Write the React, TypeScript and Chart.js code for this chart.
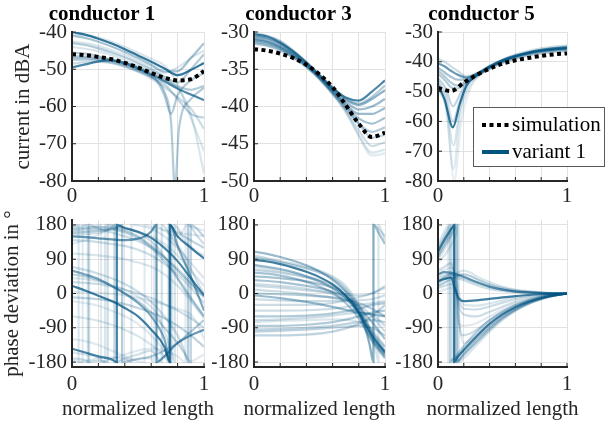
import React, { useEffect, useRef } from 'react';
import { Chart, registerables } from 'chart.js';
Chart.register(...registerables);

const BLUE = '0,84,130';
const FONT = "'Liberation Serif', 'Times New Roman', serif";
const AX = '#262626';
const GRID = '#e2e2e2';

const X_GRID = [0, 0.1, 0.2, 0.3, 0.4, 0.5, 0.6, 0.7, 0.8, 0.9, 1];
const X_TICKS = [0, 0.2, 0.4, 0.6, 0.8, 1];
const TITLES = ['conductor 1', 'conductor 3', 'conductor 5'];
const Y_TICKS_C1 = [-80, -70, -60, -50, -40];
const Y_TICKS_C3 = [-50, -45, -40, -35, -30];
const Y_TICKS_C5 = [-80, -70, -60, -50, -40, -30];
const Y_TICKS_PHASE = [-180, -90, 0, 90, 180];

// simulation (dB) on X_GRID
const SIM_C1 = [-46, -46.2, -46.7, -47.3, -48.3, -49.5, -51, -52.3, -53, -52.7, -50.5];
const SIM_C3 = [-32.3, -32.5, -32.9, -33.5, -34.4, -35.7, -37.4, -39.8, -42.3, -44.1, -43.5];
const SIM_C5 = [-48.8, -49.8, -47, -44.4, -42.3, -40.6, -39.5, -38.7, -38, -37.5, -37.2];

// variant curves: [x, value] pairs, with per-curve opacity
const AMP_C1 = [
  [[0,-40],[0.1,-40.7],[0.2,-41.8],[0.3,-43.1],[0.4,-44.6],[0.5,-46.3],[0.6,-48],[0.7,-49.8],[0.8,-51.6],[0.9,-50.2],[1,-48.3]],
  [[0,-49.5],[0.1,-48.7],[0.2,-47.9],[0.3,-47.6],[0.4,-48.3],[0.5,-49.7],[0.6,-51.4],[0.7,-53.2],[0.8,-55.2],[0.9,-56.8],[1,-58.3]],
  [[0,-41],[0.1,-41.6],[0.2,-42.6],[0.3,-43.9],[0.4,-45.4],[0.5,-47],[0.6,-48.8],[0.7,-50.6],[0.8,-50.5],[0.9,-47],[1,-43]],
  [[0,-43],[0.1,-43.5],[0.2,-44.4],[0.3,-45.5],[0.4,-46.8],[0.5,-48.3],[0.6,-50],[0.7,-52],[0.8,-53.5],[0.9,-50],[1,-46]],
  [[0,-46.5],[0.1,-46.6],[0.2,-46.9],[0.3,-47.4],[0.4,-48.3],[0.5,-49.5],[0.6,-51],[0.7,-52.7],[0.8,-54.6],[0.9,-55.5],[1,-54.5]],
  [[0,-47.5],[0.1,-47.4],[0.2,-47.6],[0.3,-48.2],[0.4,-49.2],[0.5,-50.5],[0.6,-52],[0.7,-54],[0.8,-58],[0.9,-62],[1,-63]],
  [[0,-48.5],[0.1,-48.1],[0.2,-48],[0.3,-48.4],[0.4,-49.3],[0.5,-50.7],[0.6,-52.5],[0.7,-54.8],[0.8,-57.5],[0.9,-60.5],[1,-66]],
  [[0,-44],[0.1,-44.5],[0.2,-45.2],[0.3,-46.2],[0.4,-47.5],[0.5,-49],[0.6,-50.6],[0.7,-52.4],[0.8,-55],[0.9,-62],[1,-78]],
  [[0,-42.5],[0.1,-43],[0.2,-43.8],[0.3,-44.9],[0.4,-46.1],[0.5,-47.6],[0.6,-49.3],[0.7,-51],[0.8,-49.5],[0.9,-47],[1,-45]],
  [[0,-45.5],[0.1,-45.8],[0.2,-46.5],[0.3,-47.5],[0.4,-48.6],[0.5,-50],[0.6,-51.8],[0.65,-53.5],[0.7,-57],[0.75,-62],[0.8,-57],[0.9,-53],[1,-51]],
  [[0,-47],[0.1,-47],[0.2,-47.3],[0.3,-47.8],[0.4,-48.8],[0.5,-50.2],[0.6,-52],[0.7,-56],[0.75,-64],[0.78,-82],[0.81,-66],[0.9,-58],[1,-55]],
  [[0,-40.5],[0.2,-41.5],[0.4,-44],[0.6,-47.2],[0.7,-49],[0.8,-54],[0.9,-63],[1,-72]],
];
const ALPHA_AMP_C1 = [0.8, 0.7, 0.35, 0.3, 0.3, 0.25, 0.2, 0.15, 0.15, 0.3, 0.3, 0.15];

const AMP_C3 = [
  [[0,-30.3],[0.1,-30.6],[0.2,-31.4],[0.3,-32.6],[0.4,-34.1],[0.5,-35.8],[0.6,-37.5],[0.7,-38.8],[0.8,-39.2],[0.9,-38],[1,-36.5]],
  [[0,-30.6],[0.1,-30.9],[0.2,-31.6],[0.3,-32.8],[0.4,-34.2],[0.5,-35.9],[0.6,-37.6],[0.7,-39.1],[0.8,-39.8],[0.9,-39],[1,-37.8]],
  [[0,-30.9],[0.1,-31.2],[0.2,-31.9],[0.3,-33],[0.4,-34.4],[0.5,-36],[0.6,-37.8],[0.7,-39.4],[0.8,-40.4],[0.9,-40],[1,-39]],
  [[0,-31.1],[0.1,-31.4],[0.2,-32.1],[0.3,-33.1],[0.4,-34.5],[0.5,-36.1],[0.6,-38],[0.7,-39.7],[0.8,-41],[0.9,-41],[1,-40.2]],
  [[0,-31.3],[0.1,-31.6],[0.2,-32.2],[0.3,-33.3],[0.4,-34.6],[0.5,-36.2],[0.6,-38.1],[0.7,-40],[0.8,-41.6],[0.9,-42.3],[1,-41.5]],
  [[0,-31.5],[0.1,-31.8],[0.2,-32.4],[0.3,-33.4],[0.4,-34.7],[0.5,-36.3],[0.6,-38.3],[0.7,-40.3],[0.8,-42.3],[0.9,-43.4],[1,-42.8]],
  [[0,-30.5],[0.1,-30.8],[0.2,-31.5],[0.3,-32.7],[0.4,-34.2],[0.5,-35.9],[0.6,-37.8],[0.7,-39.9],[0.8,-42.3],[0.9,-44.2],[1,-43.8]],
  [[0,-31],[0.1,-31.3],[0.2,-32],[0.3,-33.1],[0.4,-34.5],[0.5,-36.2],[0.6,-38.2],[0.7,-40.5],[0.8,-43.2],[0.9,-45.3],[1,-44.8]],
  [[0,-31.6],[0.1,-31.9],[0.2,-32.5],[0.3,-33.5],[0.4,-34.8],[0.5,-36.4],[0.6,-38.4],[0.7,-40.8],[0.8,-43.8],[0.9,-46.2],[1,-45.8]],
  [[0,-30.8],[0.1,-31.1],[0.2,-31.8],[0.3,-32.9],[0.4,-34.3],[0.5,-36],[0.6,-38],[0.7,-40.6],[0.8,-44],[0.9,-46.6],[1,-46.3]],
  [[0,-30.2],[0.1,-30.5],[0.2,-31.2],[0.3,-32.5],[0.4,-34],[0.5,-35.7],[0.6,-37.4],[0.7,-38.9],[0.8,-39.6],[0.9,-38.7],[1,-37.2]],
];
const ALPHA_AMP_C3 = [0.7, 0.45, 0.4, 0.4, 0.35, 0.3, 0.25, 0.2, 0.15, 0.12, 0.3];

const AMP_C5 = [
  [[0,-48],[0.05,-52.5],[0.115,-62],[0.17,-54],[0.22,-48],[0.3,-44.5],[0.4,-41.8],[0.5,-39.7],[0.6,-38.2],[0.7,-37.1],[0.8,-36.3],[0.9,-35.8],[1,-35.5]],
  [[0,-40.5],[0.05,-41.5],[0.1,-43],[0.15,-44.3],[0.22,-45.3],[0.3,-44],[0.4,-41.5],[0.5,-39.4],[0.6,-37.9],[0.7,-36.8],[0.8,-36],[0.9,-35.4],[1,-35]],
  [[0,-42],[0.05,-43.5],[0.1,-45],[0.15,-46],[0.22,-45.8],[0.3,-44.2],[0.4,-41.6],[0.5,-39.5],[0.6,-38],[0.7,-36.9],[0.8,-36.1],[0.9,-35.6],[1,-35.2]],
  [[0,-44],[0.05,-46],[0.1,-48.5],[0.15,-49],[0.22,-47],[0.3,-44.6],[0.4,-41.9],[0.5,-39.8],[0.6,-38.3],[0.7,-37.2],[0.8,-36.4],[0.9,-35.9],[1,-35.6]],
  [[0,-45.5],[0.06,-49],[0.115,-55],[0.17,-51],[0.23,-46.5],[0.3,-44.7],[0.4,-42],[0.5,-40],[0.6,-38.5],[0.7,-37.4],[0.8,-36.6],[0.9,-36.1],[1,-35.8]],
  [[0,-46.5],[0.06,-51],[0.115,-60],[0.17,-53],[0.24,-47],[0.3,-44.8],[0.4,-42.1],[0.5,-40.1],[0.6,-38.6],[0.7,-37.5],[0.8,-36.8],[0.9,-36.3],[1,-36]],
  [[0,-47],[0.06,-53],[0.12,-68],[0.17,-56],[0.24,-47.5],[0.3,-45],[0.4,-42.3],[0.5,-40.3],[0.6,-38.8],[0.7,-37.7],[0.8,-37],[0.9,-36.5],[1,-36.2]],
  [[0,-48.5],[0.06,-55],[0.12,-76],[0.17,-58],[0.25,-48],[0.3,-45.2],[0.4,-42.4],[0.5,-40.4],[0.6,-39],[0.7,-37.9],[0.8,-37.2],[0.9,-36.7],[1,-36.4]],
  [[0,-49.5],[0.07,-57],[0.125,-80],[0.18,-60],[0.26,-48],[0.3,-45.4],[0.4,-42.5],[0.5,-40.5],[0.6,-39.1],[0.7,-38],[0.8,-37.3],[0.9,-36.8],[1,-36.5]],
  [[0,-39],[0.05,-40],[0.1,-41.5],[0.15,-43],[0.22,-44.8],[0.3,-43.8],[0.4,-41.3],[0.5,-39.2],[0.6,-37.6],[0.7,-36.4],[0.8,-35.5],[0.9,-34.9],[1,-34.5]],
  [[0,-43],[0.05,-44.8],[0.1,-47],[0.15,-48],[0.22,-46.5],[0.3,-44.3],[0.4,-41.7],[0.5,-39.6],[0.6,-38.1],[0.7,-37],[0.8,-36.2],[0.9,-35.7],[1,-35.3]],
];
const ALPHA_AMP_C5 = [0.8, 0.6, 0.35, 0.3, 0.25, 0.2, 0.15, 0.12, 0.1, 0.2, 0.3];

// phase deviation (degrees); vertical steps are the ±180° wraps
const PH_C1 = [
  [[0,20],[0.1,8],[0.2,-6],[0.3,-20],[0.4,-38],[0.5,-60],[0.6,-95],[0.7,-140],[0.74,-180],[0.7401,180],[0.8,150],[0.9,120],[1,92]],
  [[0,-145],[0.1,-155],[0.2,-165],[0.3,-173],[0.34,-180],[0.3401,180],[0.4,172],[0.5,162],[0.6,146],[0.7,120],[0.8,85],[0.9,40],[1,-5]],
  [[0,150],[0.1,148],[0.2,145],[0.3,142],[0.4,140],[0.5,144],[0.55,150],[0.6,163],[0.64,180],[0.6401,-180],[0.7,-165],[0.8,-130],[0.9,-110],[1,-95]],
  [[0,60],[0.1,50],[0.2,38],[0.3,20],[0.4,0],[0.5,-25],[0.6,-60],[0.7,-120],[0.745,-180],[0.7451,180],[0.8,125],[0.9,45],[1,-45]],
  [[0,170],[0.1,172],[0.2,175],[0.3,172],[0.4,165],[0.5,150],[0.6,125],[0.7,95],[0.8,60],[0.9,25],[1,-10]],
  [[0,160],[0.1,162],[0.2,165],[0.3,168],[0.35,175],[0.38,180],[0.3801,-180],[0.5,-172],[0.6,-165],[0.7,-150],[0.8,-130],[0.9,-100],[1,-70]],
  [[0,50],[0.1,45],[0.2,35],[0.3,20],[0.4,0],[0.5,-20],[0.6,-50],[0.7,-90],[0.8,-130],[0.85,-155],[0.9,-180],[0.9001,180],[1,150]],
  [[0,-10],[0.1,-12],[0.2,-15],[0.3,-20],[0.4,-28],[0.5,-38],[0.6,-50],[0.7,-65],[0.8,-85],[0.9,-110],[1,-140]],
  [[0,30],[0.1,28],[0.2,25],[0.3,18],[0.4,10],[0.5,0],[0.6,-12],[0.7,-28],[0.8,-45],[0.9,-65],[1,-90]],
  [[0,-170],[0.1,-175],[0.13,-180],[0.1301,180],[0.2,170],[0.3,160],[0.4,150],[0.5,138],[0.6,120],[0.7,95],[0.8,65],[0.9,30],[1,-5]],
  [[0,175],[0.1,178],[0.12,180],[0.1201,-180],[0.2,-176],[0.27,-180],[0.2701,180],[0.35,176],[0.45,168],[0.55,150],[0.65,120],[0.75,70],[0.85,10],[1,-60]],
  [[0,155],[0.1,156],[0.2,160],[0.28,168],[0.32,180],[0.3201,-180],[0.4,-170],[0.5,-160],[0.6,-150],[0.68,-180],[0.6801,180],[0.75,150],[0.85,100],[0.95,30],[1,0]],
  [[0,-155],[0.1,-160],[0.2,-168],[0.25,-180],[0.2501,180],[0.3,175],[0.4,170],[0.5,162],[0.6,150],[0.7,130],[0.8,100],[0.9,60],[1,20]],
  [[0,40],[0.1,38],[0.2,32],[0.3,22],[0.4,10],[0.5,-8],[0.6,-35],[0.65,-55],[0.7,-100],[0.75,-150],[0.78,-180],[0.7801,180],[0.85,140],[0.95,110],[1,100]],
  [[0,-20],[0.1,-25],[0.2,-32],[0.3,-45],[0.4,-60],[0.5,-80],[0.6,-110],[0.7,-150],[0.76,-180],[0.7601,180],[0.85,150],[1,120]],
  [[0,5],[0.2,2],[0.4,-5],[0.6,-20],[0.8,-40],[0.9,-55],[0.95,-80],[1,-120]],
  [[0,130],[0.1,140],[0.2,155],[0.3,172],[0.33,180],[0.3301,-180],[0.4,-175],[0.6,-170],[0.62,-180],[0.6201,180],[0.7,165],[0.8,150],[0.88,180],[0.8801,-180],[1,-160]],
  [[0,-120],[0.1,-125],[0.2,-135],[0.3,-150],[0.4,-165],[0.5,-178],[0.55,-180],[0.5501,180],[0.65,170],[0.8,160],[1,150]],
  [[0,165],[0.1,168],[0.2,170],[0.3,168],[0.4,160],[0.5,145],[0.6,120],[0.7,85],[0.8,40],[0.9,-10],[1,-60]],
  [[0,140],[0.1,138],[0.2,135],[0.3,130],[0.4,125],[0.5,115],[0.6,100],[0.7,78],[0.8,50],[0.9,15],[1,-25]],
  [[0,70],[0.1,62],[0.2,52],[0.3,40],[0.4,25],[0.5,5],[0.6,-22],[0.7,-60],[0.8,-110],[0.85,-150],[0.88,-180],[0.8801,180],[0.95,150],[1,130]],
  [[0,-60],[0.1,-65],[0.2,-72],[0.3,-82],[0.4,-95],[0.5,-112],[0.6,-135],[0.7,-165],[0.73,-180],[0.7301,180],[0.8,160],[0.9,140],[1,120]],
  [[0,178],[0.05,180],[0.0501,-180],[0.1,-178],[0.2,-170],[0.3,-168],[0.4,-170],[0.45,-180],[0.4501,180],[0.6,170],[0.7,150],[0.8,120],[0.9,80],[1,40]],
  [[0,-175],[0.08,-180],[0.0801,180],[0.15,176],[0.22,180],[0.2201,-180],[0.3,-172],[0.4,-160],[0.5,-150],[0.6,-145],[0.7,-150],[0.8,-165],[0.86,-180],[0.8601,180],[0.95,170],[1,165]],
  [[0,105],[0.2,100],[0.4,90],[0.6,70],[0.7,50],[0.8,20],[0.9,-20],[1,-65]],
];
const ALPHA_PH_C1 = [0.75, 0.7, 0.6, 0.5, 0.3, 0.3, 0.25, 0.25, 0.2, 0.2, 0.2, 0.18, 0.15, 0.15, 0.12, 0.12, 0.12, 0.12, 0.25, 0.2, 0.2, 0.15, 0.15, 0.12, 0.15];

const PH_C3 = [
  [[0,88],[0.1,84],[0.2,77],[0.3,68],[0.4,57],[0.5,43],[0.6,24],[0.7,-5],[0.8,-50],[0.9,-110],[1,-155]],
  [[0,110],[0.1,104],[0.2,96],[0.3,86],[0.4,74],[0.5,58],[0.6,36],[0.7,5],[0.8,-45],[0.9,-115],[1,-160]],
  [[0,75],[0.1,70],[0.2,64],[0.3,56],[0.4,45],[0.5,32],[0.6,14],[0.7,-12],[0.8,-55],[0.9,-120],[1,-165]],
  [[0,55],[0.1,52],[0.2,47],[0.3,40],[0.4,30],[0.5,18],[0.6,2],[0.7,-25],[0.8,-65],[0.9,-125],[1,-170]],
  [[0,35],[0.2,30],[0.4,20],[0.6,5],[0.7,-10],[0.8,-35],[0.9,-75],[1,-120]],
  [[0,0],[0.2,-2],[0.4,-5],[0.6,-10],[0.7,-15],[0.8,-25],[0.9,-40],[1,-60]],
  [[0,-5],[0.2,-12],[0.4,-22],[0.6,-35],[0.8,-50],[0.9,-55],[1,-60]],
  [[0,-60],[0.2,-60],[0.4,-58],[0.6,-52],[0.8,-40],[0.9,-30],[1,-25]],
  [[0,-85],[0.2,-85],[0.4,-82],[0.6,-75],[0.8,-60],[0.9,-50],[1,-45]],
  [[0,-100],[0.2,-98],[0.4,-95],[0.6,-90],[0.8,-85],[0.9,-90],[1,-110]],
  [[0,-110],[0.2,-110],[0.4,-108],[0.6,-100],[0.8,-80],[0.9,-60],[1,-30]],
  [[0,-30],[0.2,-30],[0.4,-30],[0.6,-25],[0.8,-10],[0.9,0],[1,15]],
  [[0,20],[0.2,15],[0.4,8],[0.6,2],[0.8,-5],[0.9,0],[1,20]],
  [[0,45],[0.2,40],[0.4,32],[0.6,15],[0.7,-5],[0.8,-50],[0.88,-130],[0.91,-180],[0.9101,180],[0.95,160],[1,130]],
  [[0,-45],[0.2,-45],[0.4,-44],[0.6,-40],[0.8,-30],[1,-20]],
  [[0,70],[0.2,60],[0.4,45],[0.6,25],[0.75,-10],[0.85,-60],[0.93,-150],[0.95,-180],[0.9501,180],[1,140]],
  [[0,-75],[0.2,-72],[0.4,-70],[0.6,-68],[0.8,-75],[0.9,-95],[1,-140]],
  [[0,100],[0.2,85],[0.4,70],[0.6,45],[0.7,20],[0.8,-30],[0.9,-100],[1,-150]],
  [[0,95],[0.2,82],[0.4,66],[0.6,40],[0.7,12],[0.8,-38],[0.9,-105],[1,-152]],
  [[0,62],[0.2,55],[0.4,42],[0.6,20],[0.7,-5],[0.8,-45],[0.9,-100],[1,-140]],
  [[0,-15],[0.2,-18],[0.4,-20],[0.6,-20],[0.8,-18],[0.9,-15],[1,-5]],
  [[0,-95],[0.2,-93],[0.4,-90],[0.6,-85],[0.8,-75],[0.9,-70],[1,-75]],
  [[0,-70],[0.2,-68],[0.4,-64],[0.6,-58],[0.8,-50],[0.9,-55],[1,-85]],
  [[0,10],[0.2,5],[0.4,-2],[0.6,-12],[0.8,-30],[0.9,-60],[1,-100]],
  [[0,25],[0.2,20],[0.4,12],[0.6,-2],[0.75,-30],[0.85,-90],[0.9,-160],[0.915,-180],[0.9151,180],[0.95,170],[1,150]],
];
const ALPHA_PH_C3 = [0.75, 0.4, 0.4, 0.35, 0.35, 0.3, 0.4, 0.3, 0.3, 0.25, 0.25, 0.2, 0.2, 0.35, 0.2, 0.15, 0.15, 0.2, 0.3, 0.25, 0.2, 0.25, 0.2, 0.2, 0.2];

const PH_C5 = [
  [[0,110],[0.04,135],[0.08,158],[0.12,178],[0.125,180],[0.1251,-180],[0.15,-168],[0.2,-148],[0.3,-112],[0.4,-80],[0.5,-55],[0.6,-36],[0.7,-22],[0.8,-12],[0.9,-5],[1,0]],
  [[0,32],[0.05,38],[0.1,42],[0.13,15],[0.16,-12],[0.2,-20],[0.3,-18],[0.4,-14],[0.5,-10],[0.6,-7],[0.7,-4],[0.8,-2],[0.9,-1],[1,0]],
  [[0,50],[0.05,56],[0.1,55],[0.15,50],[0.2,44],[0.3,30],[0.4,18],[0.5,10],[0.6,5],[0.7,3],[0.8,1.5],[0.9,0.5],[1,0]],
  [[0,20],[0.05,28],[0.1,38],[0.15,47],[0.2,50],[0.25,46],[0.3,38],[0.4,24],[0.5,14],[0.6,8],[0.8,2],[1,0]],
  [[0,100],[0.04,125],[0.08,150],[0.11,170],[0.13,180],[0.1301,-180],[0.16,-175],[0.2,-160],[0.3,-128],[0.4,-95],[0.5,-66],[0.6,-44],[0.7,-27],[0.8,-15],[0.9,-6],[1,0]],
  [[0,95],[0.04,118],[0.08,142],[0.12,165],[0.145,180],[0.1451,-180],[0.2,-155],[0.3,-120],[0.4,-88],[0.5,-60],[0.6,-40],[0.7,-24],[0.8,-13],[0.9,-5],[1,0]],
  [[0,120],[0.04,145],[0.07,165],[0.095,180],[0.0951,-180],[0.12,-172],[0.15,-160],[0.2,-138],[0.3,-100],[0.4,-70],[0.5,-48],[0.6,-31],[0.7,-18],[0.8,-9],[0.9,-3],[1,0]],
  [[0,60],[0.05,70],[0.1,80],[0.12,60],[0.14,20],[0.16,-60],[0.18,-110],[0.25,-105],[0.3,-95],[0.4,-70],[0.5,-48],[0.6,-30],[0.8,-10],[1,0]],
  [[0,40],[0.05,45],[0.1,50],[0.13,30],[0.16,-30],[0.2,-55],[0.3,-60],[0.4,-48],[0.5,-35],[0.6,-22],[0.8,-8],[1,0]],
  [[0,15],[0.05,20],[0.1,25],[0.13,10],[0.16,-20],[0.2,-40],[0.3,-42],[0.4,-34],[0.5,-24],[0.6,-15],[0.8,-5],[1,0]],
  [[0,130],[0.03,150],[0.06,170],[0.08,180],[0.0801,-180],[0.1,-175],[0.15,-165],[0.2,-150],[0.3,-118],[0.4,-88],[0.5,-62],[0.6,-42],[0.7,-26],[0.8,-14],[0.9,-6],[1,0]],
  [[0,25],[0.05,35],[0.1,45],[0.15,55],[0.2,60],[0.25,55],[0.3,45],[0.4,30],[0.5,18],[0.6,10],[0.8,3],[1,0]],
  [[0,80],[0.05,100],[0.1,125],[0.14,155],[0.16,180],[0.1601,-180],[0.2,-170],[0.3,-135],[0.4,-100],[0.5,-70],[0.6,-46],[0.7,-28],[0.8,-15],[0.9,-6],[1,0]],
  [[0,5],[0.05,10],[0.1,15],[0.13,0],[0.16,-80],[0.2,-85],[0.3,-78],[0.4,-60],[0.5,-42],[0.6,-28],[0.8,-9],[1,0]],
  [[0,30],[0.05,42],[0.1,50],[0.13,48],[0.2,40],[0.3,28],[0.4,17],[0.5,10],[0.6,5],[0.8,1],[1,0]],
  [[0,90],[0.04,110],[0.08,135],[0.12,160],[0.15,180],[0.1501,-180],[0.2,-162],[0.3,-125],[0.4,-92],[0.5,-64],[0.6,-42],[0.7,-25],[0.8,-13],[0.9,-5],[1,0]],
  [[0,115],[0.04,140],[0.08,162],[0.11,180],[0.1101,-180],[0.13,-175],[0.2,-142],[0.3,-105],[0.4,-75],[0.5,-52],[0.6,-34],[0.7,-20],[0.8,-10],[0.9,-4],[1,0]],
  [[0,45],[0.05,50],[0.1,52],[0.14,40],[0.17,-10],[0.2,-30],[0.3,-32],[0.4,-26],[0.5,-18],[0.6,-11],[0.8,-4],[1,0]],
  [[0,55],[0.05,62],[0.1,68],[0.13,55],[0.15,0],[0.17,-90],[0.2,-130],[0.3,-110],[0.4,-82],[0.5,-57],[0.6,-37],[0.8,-12],[1,0]],
  [[0,35],[0.05,40],[0.1,42],[0.15,40],[0.2,35],[0.3,22],[0.4,12],[0.5,6],[0.7,2],[1,0]],
];
const ALPHA_PH_C5 = [0.75, 0.75, 0.6, 0.3, 0.3, 0.25, 0.25, 0.2, 0.2, 0.2, 0.15, 0.15, 0.15, 0.12, 0.25, 0.15, 0.15, 0.15, 0.12, 0.2];

type PanelCfg = {
  left: number; top: number; width: number; height: number;
  yW: number; xH: number; padRight: number; padTop: number;
  ymin: number; ymax: number; yticks: number[];
  curves: number[][][]; alphas: number[]; sim?: number[];
  title?: string; yTitle?: string; yTitlePad?: number; xTitle?: string;
  xLabelPad: number; legend?: boolean;
};

const axisOverlay = {
  id: 'axisOverlay',
  afterDatasetsDraw(chart: any) {
    const { ctx, chartArea, scales } = chart;
    const { left, right, top, bottom } = chartArea;
    ctx.save();
    ctx.strokeStyle = AX;
    ctx.lineWidth = 1;
    scales.x.ticks.forEach((t: any) => {
      const px = scales.x.getPixelForValue(t.value);
      ctx.beginPath(); ctx.moveTo(px, bottom); ctx.lineTo(px, bottom - 4); ctx.stroke();
    });
    scales.y.ticks.forEach((t: any) => {
      const py = scales.y.getPixelForValue(t.value);
      ctx.beginPath(); ctx.moveTo(left, py); ctx.lineTo(left + 4, py); ctx.stroke();
    });
    ctx.lineWidth = 2;
    ctx.beginPath(); ctx.moveTo(left, top); ctx.lineTo(left, bottom); ctx.lineTo(right, bottom); ctx.stroke();
    ctx.restore();
  },
};

const legendBox = {
  id: 'legendBox',
  afterDraw(chart: any) {
    const { ctx, chartArea } = chart;
    const x0 = chartArea.left + 35;
    const y0 = chartArea.top + 75;
    const w = 132, h = 60;
    ctx.save();
    ctx.fillStyle = '#ffffff';
    ctx.fillRect(x0, y0, w, h);
    ctx.strokeStyle = '#595959';
    ctx.lineWidth = 1;
    ctx.strokeRect(x0 + 0.5, y0 + 0.5, w - 1, h - 1);
    const rows = [
      { label: 'simulation', color: '#000000', dash: [4, 3.5] },
      { label: 'variant 1', color: `rgb(${BLUE})`, dash: [] as number[] },
    ];
    rows.forEach((r, i) => {
      const cy = y0 + 18 + i * 27;
      ctx.strokeStyle = r.color;
      ctx.lineWidth = 4;
      ctx.setLineDash(r.dash);
      ctx.beginPath(); ctx.moveTo(x0 + 9, cy); ctx.lineTo(x0 + 36, cy); ctx.stroke();
      ctx.setLineDash([]);
      ctx.fillStyle = '#000';
      ctx.font = `21px ${FONT}`;
      ctx.textBaseline = 'middle';
      ctx.textAlign = 'left';
      ctx.fillText(r.label, x0 + 39, cy);
    });
    ctx.restore();
  },
};

function Panel({ cfg }: { cfg: PanelCfg }) {
  const ref = useRef<HTMLCanvasElement>(null);
  useEffect(() => {
    const datasets: any[] = [];
    if (cfg.sim) {
      datasets.push({
        data: cfg.sim.map((y, i) => ({ x: X_GRID[i], y })),
        borderColor: '#000', borderWidth: 4, borderDash: [4, 3.5], borderCapStyle: 'butt',
        pointRadius: 0, cubicInterpolationMode: 'monotone', fill: false,
      });
    }
    cfg.curves.forEach((c, i) => {
      datasets.push({
        data: c.map(([x, y]) => ({ x, y })),
        borderColor: `rgba(${BLUE},${cfg.alphas[i]})`, borderWidth: 2.2,
        pointRadius: 0, cubicInterpolationMode: 'monotone', fill: false,
      });
    });
    const xTitlePlugin = {
      id: 'xTitle',
      afterDraw(chart: any) {
        if (!cfg.xTitle) return;
        const { ctx, chartArea } = chart;
        ctx.save();
        ctx.fillStyle = AX;
        ctx.font = `21px ${FONT}`;
        ctx.textAlign = 'center';
        ctx.textBaseline = 'middle';
        ctx.fillText(cfg.xTitle, (chartArea.left + chartArea.right) / 2, chart.height - 13.6);
        ctx.restore();
      },
    };
    const tickFont = { family: FONT, size: 21 };
    const chart = new Chart(ref.current!, {
      type: 'line',
      data: { datasets },
      options: {
        animation: false, responsive: false, events: [],
        layout: { padding: { left: 0, right: cfg.padRight, top: cfg.padTop, bottom: 0 } },
        plugins: {
          legend: { display: false }, tooltip: { enabled: false },
          title: cfg.title
            ? { display: true, text: cfg.title, color: '#000', font: { family: FONT, size: 21, weight: 'bold' }, padding: { top: 2, bottom: 4.8 } }
            : { display: false },
        },
        scales: {
          x: {
            type: 'linear', min: 0, max: 1,
            afterBuildTicks: (s: any) => { s.ticks = X_TICKS.map((v) => ({ value: v })); },
            afterFit: (s: any) => { s.height = cfg.xH; s.paddingLeft = 0; s.paddingRight = 0; },
            ticks: { callback: (v: any) => (v === 0 || v === 1 ? String(v) : ''), color: AX, font: tickFont, padding: cfg.xLabelPad, maxRotation: 0, autoSkip: false },
            grid: { color: GRID, lineWidth: 1, drawTicks: false },
            border: { color: AX, width: 2 },
            title: { display: false },
          },
          y: {
            type: 'linear', min: cfg.ymin, max: cfg.ymax,
            afterBuildTicks: (s: any) => { s.ticks = cfg.yticks.map((v) => ({ value: v })); },
            afterFit: (s: any) => { s.width = cfg.yW; s.paddingTop = 0; s.paddingBottom = 0; },
            ticks: { callback: (v: any) => String(v), color: AX, font: tickFont, padding: 5, autoSkip: false },
            grid: { color: GRID, lineWidth: 1, drawTicks: false },
            border: { color: AX, width: 2 },
            title: cfg.yTitle
              ? { display: true, text: cfg.yTitle, color: AX, font: { family: FONT, size: 21 }, padding: { top: cfg.yTitlePad ?? 0, bottom: 0 } }
              : { display: false },
          },
        },
      } as any,
      plugins: cfg.legend ? [axisOverlay, xTitlePlugin, legendBox] : [axisOverlay, xTitlePlugin],
    });
    return () => chart.destroy();
  }, [cfg]);
  return (
    <canvas
      ref={ref}
      width={cfg.width}
      height={cfg.height}
      style={{ position: 'absolute', left: cfg.left, top: cfg.top, width: cfg.width, height: cfg.height }}
    />
  );
}

const COLS = [
  { left: 0, width: 226, yW: 72, padRight: 22 },
  { left: 212, width: 198, yW: 42, padRight: 25 },
  { left: 396, width: 210, yW: 42, padRight: 39 },
];

const PANELS: PanelCfg[] = [
  { ...COLS[0], top: 0, height: 210, xH: 29, padTop: 0, ymin: -80, ymax: -40, yticks: Y_TICKS_C1, curves: AMP_C1, alphas: ALPHA_AMP_C1, sim: SIM_C1, title: TITLES[0], yTitle: 'current in dBA', yTitlePad: 11, xLabelPad: 3 },
  { ...COLS[1], top: 0, height: 210, xH: 29, padTop: 0, ymin: -50, ymax: -30, yticks: Y_TICKS_C3, curves: AMP_C3, alphas: ALPHA_AMP_C3, sim: SIM_C3, title: TITLES[1], xLabelPad: 3 },
  { ...COLS[2], top: 0, height: 210, xH: 29, padTop: 0, ymin: -80, ymax: -30, yticks: Y_TICKS_C5, curves: AMP_C5, alphas: ALPHA_AMP_C5, sim: SIM_C5, title: TITLES[2], xLabelPad: 3, legend: true },
  { ...COLS[0], top: 210, height: 213, xH: 56, padTop: 10, ymin: -193, ymax: 193, yticks: Y_TICKS_PHASE, curves: PH_C1, alphas: ALPHA_PH_C1, yTitle: 'phase deviation in °', yTitlePad: 0, xTitle: 'normalized length', xLabelPad: 5 },
  { ...COLS[1], top: 210, height: 213, xH: 56, padTop: 10, ymin: -193, ymax: 193, yticks: Y_TICKS_PHASE, curves: PH_C3, alphas: ALPHA_PH_C3, xTitle: 'normalized length', xLabelPad: 5 },
  { ...COLS[2], top: 210, height: 213, xH: 56, padTop: 10, ymin: -193, ymax: 193, yticks: Y_TICKS_PHASE, curves: PH_C5, alphas: ALPHA_PH_C5, xTitle: 'normalized length', xLabelPad: 5 },
];

export default function App() {
  return (
    <div style={{ position: 'absolute', left: 0, top: 0, width: 606, height: 423, background: '#fff', overflow: 'hidden' }}>
      {PANELS.map((p, i) => (
        <Panel key={i} cfg={p} />
      ))}
    </div>
  );
}
